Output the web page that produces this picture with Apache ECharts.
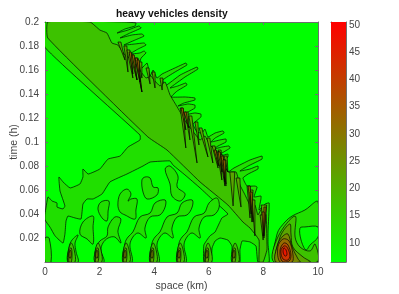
<!DOCTYPE html>
<html><head><meta charset="utf-8">
<style>html,body{margin:0;padding:0;background:#fff}#c{width:399px;height:294px}</style>
<script src="https://cdn.jsdelivr.net/npm/echarts@6/dist/echarts.min.js"></script>
</head><body><div id="c"></div>
<script>
const xTicks=[0,2,4,6,8,10];
const yTickLabels=['0.02','0.04','0.06','0.08','0.1','0.12','0.14','0.16','0.18','0.2'];
const colorbarTicks=[10,15,20,25,30,35,40,45,50];
const densityRange=[6.5,50.55];
// density of each filled contour level
const levels=[6.5,12,17,22,27,32,37,42,47];

// level 1: large region (space km, time h)
const mainRegion=[[0,.2],[2.89,.2],[3.33,.1992],[3.30,.1967],[2.93,.1942],[2.64,.1908],[3.04,.1933],[3.44,.1967],[3.52,.1950],[3.11,.1908],[2.75,.1867],[3.19,.1892],[3.55,.19],[3.63,.1883],[3.30,.185],[2.89,.1808],[3.30,.1817],[3.63,.1825],[3.70,.1808],[3.41,.1775],[3.11,.1733],[3.48,.1742],[3.63,.1758],[3.70,.1742],[3.52,.17],[3.48,.1667],[3.55,.1617],[3.74,.1658],[3.85,.155],[3.96,.16],[4.10,.1533],[4.29,.1567],[4.76,.1617],[5.16,.1658],[5.20,.1642],[4.76,.1583],[4.32,.1517],[4.40,.1467],[4.95,.1558],[5.57,.1625],[5.60,.1608],[5.13,.1542],[4.58,.145],[4.87,.1467],[5.16,.1492],[5.20,.1475],[4.84,.1425],[4.62,.1375],[5.13,.1375],[5.49,.1367],[5.49,.135],[5.09,.1325],[4.87,.13],[5.24,.1317],[5.49,.1308],[5.49,.1283],[5.24,.125],[5.09,.1225],[5.49,.1242],[5.71,.1233],[5.71,.1208],[5.42,.115],[5.57,.1083],[5.75,.1075],[5.86,.1108],[5.97,.1042],[6.23,.1075],[6.52,.1092],[6.56,.1075],[6.23,.1033],[6.08,.1],[6.41,.1017],[6.63,.1025],[6.63,.1],[6.34,.0967],[6.19,.0942],[6.48,.0958],[6.74,.0967],[6.78,.095],[6.48,.0908],[6.30,.0883],[6.56,.0892],[6.70,.09],[6.70,.0875],[6.52,.0833],[6.70,.075],[6.92,.0783],[7.51,.085],[7.95,.0883],[7.95,.0858],[7.44,.08],[7.14,.0758],[7.51,.0775],[7.80,.08],[7.80,.0775],[7.44,.0733],[7.25,.07],[7.40,.0633],[7.69,.0633],[7.77,.0625],[7.66,.0542],[7.91,.055],[7.91,.0525],[7.84,.0433],[8.06,.0483],[8.21,.0492],[8.17,.0258],[8.17,.015],[8.21,0],[7.80,0],[7.73,.0133],[7.51,.0167],[7.22,.0175],[7.14,.01],[7.14,0],[6.85,0],[6.85,.0133],[6.70,.0183],[6.41,.02],[6.23,.0175],[6.12,.0117],[6.08,0],[5.82,0],[5.82,.0142],[6.04,.0217],[6.23,.025],[6.48,.0367],[6.70,.04],[6.15,.0517],[5.68,.0617],[5.13,.0725],[4.69,.0808],[4.58,.0842],[4.40,.0842],[3.85,.0833],[3.59,.08],[3.00,.0733],[2.38,.0667],[2.09,.0567],[1.76,.0525],[1.54,.0525],[1.39,.0483],[1.32,.0358],[1.10,.0367],[.84,.0383],[.77,.0342],[.73,.0233],[.66,.0158],[.37,.0217],[.18,.0292],[0,.035],[0,.04],[.11,.0542],[.26,.0508],[.44,.0492],[.44,.0458],[.66,.0442],[.73,.0467],[.55,.0592],[.51,.0708],[.66,.0667],[.92,.0617],[1.28,.065],[1.39,.0708],[1.39,.0775],[1.58,.0733],[2.01,.0775],[2.31,.0858],[2.75,.0883],[3.04,.0958],[3.48,.1017],[3.48,.1058],[0,.1788]];
const rightRegion=[[8.50,.0233],[8.79,.0333],[9.05,.0383],[9.52,.0433],[10,.05],[10,0],[8.46,0]];
const lowerLobes=[
 [[0,.02],[.15,.02],[.22,0],[0,0]],
 [[.84,0],[.88,.0125],[.99,.0183],[1.21,.0225],[1.10,.0158],[1.14,.0083],[1.21,0]],
 [[1.28,.0233],[1.39,.0333],[1.76,.0383],[1.76,.0292],[1.76,.015],[1.54,.0192]],
 [[1.94,.0442],[2.05,.05],[2.34,.0508],[2.31,.0425],[2.27,.0342],[2.09,.0367]],
 [[1.83,0],[1.87,.0117],[2.01,.0175],[2.27,.0217],[2.31,.0292],[2.56,.0375],[2.78,.0358],[2.67,.0258],[2.78,.0158],[2.56,.0208],[2.31,.02],[2.12,.0158],[2.05,.01],[2.16,0]],
 [[2.86,0],[2.93,.0158],[3.04,.0208],[3.22,.025],[3.48,.0375],[3.85,.0408],[4.03,.0492],[4.40,.0517],[4.40,.0458],[4.21,.0392],[3.85,.0375],[3.66,.0283],[3.70,.02],[3.41,.0242],[3.22,.0208],[3.11,.0142],[3.19,0]],
 [[3.85,0],[3.92,.0158],[4.03,.0208],[4.21,.025],[4.47,.0375],[4.84,.0408],[5.02,.0492],[5.39,.0517],[5.39,.0458],[5.20,.0392],[4.84,.0375],[4.65,.0283],[4.69,.02],[4.40,.0242],[4.21,.0208],[4.10,.0142],[4.18,0]],
 [[4.84,0],[4.91,.0158],[5.02,.0208],[5.20,.025],[5.46,.0375],[5.83,.0408],[6.01,.0492],[6.30,.0533],[6.38,.0458],[6.19,.0392],[5.83,.0375],[5.64,.0283],[5.68,.02],[5.39,.0242],[5.20,.0208],[5.09,.0142],[5.17,0]],
 [[2.67,.0475],[2.75,.0567],[3.00,.0608],[3.15,.0567],[3.04,.0508],[3.15,.0525],[3.37,.0525],[3.33,.0433],[3.30,.0358],[2.93,.0392],[2.75,.0417]],
 [[3.55,.0683],[3.66,.0708],[3.85,.07],[3.96,.0625],[4.14,.0617],[4.10,.0558],[3.74,.0525],[3.59,.0583]],
 [[4.40,.0775],[4.58,.08],[4.87,.0717],[4.84,.0625],[5.13,.0567],[4.95,.0508],[4.65,.055],[4.58,.065]]
];
const brightHole=[[9.34,.0283],[9.52,.0292],[10,.0292],[10,.0208],[9.71,.0142],[9.56,.01],[9.38,.0183]];
// level 2
const bandRegion=[[.10,.2],[.10,.1867],[3.77,.1042],[4.47,.0933],[5.68,.0667],[6.70,.0475],[7.25,.0333],[7.51,.0283],[7.84,.0183],[7.84,0],[7.99,0],[8.13,.01],[8.13,.0158],[8.10,.0392],[7.95,.045],[7.80,.0392],[7.69,.0475],[7.51,.0475],[7.33,.0558],[7.14,.0642],[7.0,.075],[6.70,.075],[6.48,.085],[6.26,.0933],[6.04,.0975],[5.86,.105],[5.68,.1017],[5.38,.11],[5.16,.1167],[4.95,.125],[4.80,.1308],[4.58,.1392],[4.40,.15],[4.21,.1467],[3.99,.1517],[3.88,.155],[3.70,.1533],[3.41,.1617],[3.19,.1683],[2.93,.1725],[2.67,.1808],[2.45,.1825],[2.27,.1908],[2.01,.1933],[1.65,.2]];
const rightBump2=[[8.53,.0208],[9.16,.0383],[9.16,.0208],[9.34,.0125],[9.71,.0092],[9.89,.015],[9.96,0],[8.39,0]];
const legs2=[[[.85,0],[.85,.0083],[.96,.0158],[1.07,.01],[1.10,0]],[[1.83,0],[1.83,.0083],[1.94,.0158],[2.05,.01],[2.08,0]],[[2.86,0],[2.86,.0083],[2.97,.0158],[3.08,.01],[3.11,0]],[[3.85,0],[3.85,.0083],[3.96,.0158],[4.07,.01],[4.10,0]],[[4.84,0],[4.84,.0083],[4.95,.0158],[5.06,.01],[5.09,0]],[[5.86,0],[5.86,.0083],[5.97,.0158],[6.08,.01],[6.11,0]],[[6.85,0],[6.85,.0083],[6.96,.0158],[7.07,.01],[7.10,0]]];
// level 3
const spikes3=[
 [[2.67,.1833],[2.78,.1833],[2.93,.1683]],[[2.89,.18],[3.0,.18],[3.04,.1583]],[[3.0,.1767],[3.11,.1767],[3.22,.1533]],[[3.11,.1733],[3.22,.1733],[3.37,.1517]],[[3.30,.17],[3.41,.17],[3.55,.1417]],[[3.44,.1667],[3.55,.1667],[3.55,.1533]],[[3.70,.1617],[3.81,.1617],[3.85,.1483]],[[3.92,.1583],[4.03,.1583],[4.03,.145]],[[4.21,.1533],[4.32,.1533],[4.29,.1433]],
 [[4.95,.1283],[5.06,.1283],[5.16,.095]],[[5.13,.125],[5.24,.125],[5.31,.1017]],[[5.27,.1217],[5.38,.1217],[5.57,.0825]],[[5.49,.1167],[5.60,.1167],[5.64,.0975]],[[5.64,.1117],[5.75,.1117],[5.97,.0875]],[[5.93,.1033],[6.04,.1033],[6.15,.0825]],[[6.12,.0967],[6.23,.0967],[6.34,.0783]],[[6.34,.0933],[6.45,.0933],[6.52,.0767]],[[6.56,.0883],[6.67,.0883],[6.70,.075]],
 [[6.30,.0917],[6.41,.0917],[6.48,.0683]],[[6.41,.0892],[6.52,.0892],[6.59,.0633]],[[6.52,.085],[6.63,.085],[6.63,.065]],[[6.77,.075],[6.95,.075],[6.89,.0467]],[[7.0,.07],[7.14,.07],[7.18,.0458]],[[7.40,.0633],[7.51,.0633],[7.51,.0367]],[[7.51,.06],[7.62,.06],[7.58,.0333]],[[7.58,.0517],[7.69,.0517],[7.69,.0217]],[[7.92,.0475],[8.12,.0475],[8.02,.02]],[[7.88,.0392],[8.03,.0392],[7.99,.0183]]
];
const spikeCores=[[[3.08,.175],[3.16,.175],[3.22,.1567]],[[3.19,.1725],[3.27,.1725],[3.37,.1517]],[[3.30,.17],[3.38,.17],[3.55,.1417]],[[3.37,.1683],[3.45,.1683],[3.48,.15]],[[4.98,.1283],[5.06,.1283],[5.16,.11]],[[5.09,.125],[5.17,.125],[5.27,.1117]],[[6.19,.0933],[6.27,.0933],[6.37,.08]],[[6.34,.0917],[6.42,.0917],[6.48,.075]],[[6.45,.0883],[6.53,.0883],[6.59,.0667]],[[6.52,.085],[6.60,.085],[6.63,.0633]],[[7.44,.0633],[7.52,.0633],[7.55,.04]],[[7.51,.0583],[7.59,.0583],[7.62,.0333]],[[8.02,.0458],[8.10,.0458],[8.02,.0217]],[[7.95,.0417],[8.03,.0417],[7.99,.0217]]];
const rightBump3=[[8.61,.0208],[8.97,.0317],[9.01,.0233],[9.08,.0125],[9.45,.0042],[9.71,0],[8.50,0]];
const legs3=[[[.87,.0033],[.88,.01],[.96,.0117],[.99,.0067],[.96,0],[.88,0]],[[1.85,.0033],[1.86,.01],[1.94,.0117],[1.97,.0067],[1.94,0],[1.86,0]],[[2.88,.0033],[2.89,.01],[2.97,.0117],[3.0,.0067],[2.97,0],[2.89,0]],[[3.87,.0033],[3.88,.01],[3.96,.0117],[3.99,.0067],[3.96,0],[3.88,0]],[[4.86,.0033],[4.87,.01],[4.95,.0117],[4.98,.0067],[4.95,0],[4.87,0]],[[5.88,.0033],[5.89,.01],[5.97,.0117],[6.0,.0067],[5.97,0],[5.89,0]],[[6.87,.0033],[6.88,.01],[6.96,.0117],[6.99,.0067],[6.96,0],[6.88,0]]];
// level 4
const legs4=[[[.88,.0058],[.92,.01],[.96,.0075],[.94,.0033],[.90,.0033]],[[1.86,.0058],[1.90,.01],[1.94,.0075],[1.92,.0033],[1.88,.0033]],[[2.89,.0058],[2.93,.01],[2.97,.0075],[2.95,.0033],[2.91,.0033]],[[3.88,.0058],[3.92,.01],[3.96,.0075],[3.94,.0033],[3.90,.0033]],[[4.87,.0058],[4.91,.01],[4.95,.0075],[4.93,.0033],[4.89,.0033]],[[5.89,.0058],[5.93,.01],[5.97,.0075],[5.95,.0033],[5.91,.0033]],[[6.88,.0058],[6.92,.01],[6.96,.0075],[6.94,.0033],[6.90,.0033]]];
const rightBump4=[[8.53,.015],[8.72,.0217],[8.90,.0233],[9.05,.0125],[9.27,.0025],[9.34,0],[8.46,0]];
const rightBump5=[[8.53,.0125],[8.72,.0192],[8.94,.0175],[9.08,.0067],[9.05,0],[8.61,0]];
const rightBump6=[[8.61,.01],[8.75,.0158],[8.90,.0142],[9.01,.0058],[8.94,.0008],[8.68,.0008]];
const rightBump7=[[8.64,.0092],[8.75,.0133],[8.86,.0125],[8.97,.0058],[8.90,.0017],[8.72,.0025]];
const rightBump8=[[8.75,.0117],[8.83,.01],[8.86,.0058],[8.79,.005],[8.72,.0083]];

function colourOf(v){
 const r=Math.max(0,Math.min(1,(v-densityRange[0])/(densityRange[1]-densityRange[0])));
 return 'rgb('+Math.round(255*r)+','+Math.round(255*(1-r))+',0)';
}
const layers=[
 [[mainRegion],1,0.12],
 [[rightRegion,...lowerLobes],1,0.35],
 [[brightHole],0,0.35],
 [[bandRegion],2,0.12],
 [[rightBump2,...legs2],2,0.35],
 [[...spikes3],3,0],
 [[rightBump3,...legs3],3,0.35],
 [[...legs4,rightBump4],4,0.35],
 [[...spikeCores],5,0],
 [[rightBump5],5,0.35],[[rightBump6],6,0.35],[[rightBump7],7,0.35],[[rightBump8],8,0.35]
];
const contourSeries=layers.map(function(l){
 const polys=l[0],fill=colourOf(levels[l[1]]),sm=l[2];
 return {type:'custom',coordinateSystem:'cartesian2d',xAxisIndex:0,yAxisIndex:0,clip:true,silent:true,
  data:polys.map(function(p,i){return [p[0][0],p[0][1],i];}),
  renderItem:function(params,api){
   const pts=polys[api.value(2)].map(function(q){return api.coord(q);});
   return {type:'polygon',shape:{points:pts,smooth:sm},style:{fill:fill,stroke:'rgba(0,0,0,0.85)',lineWidth:0.8}};
  }};
});
const colorbarSeries={type:'custom',coordinateSystem:'cartesian2d',xAxisIndex:2,yAxisIndex:2,silent:true,
 data:[[0,densityRange[0],1,densityRange[1]]],
 renderItem:function(params,api){
  const a=api.coord([api.value(0),api.value(1)]),b=api.coord([api.value(2),api.value(3)]);
  return {type:'rect',shape:{x:a[0],y:b[1],width:b[0]-a[0],height:a[1]-b[1]},
   style:{fill:new echarts.graphic.LinearGradient(0,0,0,1,[{offset:0,color:colourOf(densityRange[1])},{offset:1,color:colourOf(densityRange[0])}])}};
 }};
const grey='#6e6e6e',txt='#444444',font='"Liberation Sans",Arial,sans-serif';
const line={show:true,onZero:false,lineStyle:{color:grey,width:1}};
const tick={show:true,inside:true,length:3,lineStyle:{color:grey,width:1}};
const chart=echarts.init(document.getElementById('c'),null,{renderer:'canvas'});
chart.setOption({
 animation:false,backgroundColor:'#fff',
 title:{text:'heavy vehicles density',left:111,top:4,textStyle:{fontFamily:font,fontSize:10.3,fontWeight:'bold',color:'#111'}},
 grid:[
  {left:45,top:22,width:273,height:240,show:true,backgroundColor:colourOf(levels[0]),borderWidth:0,outerBoundsMode:'none'},
  {left:331,top:22,width:15,height:240,show:false,outerBoundsMode:'none'}
 ],
 xAxis:[
  {gridIndex:0,type:'value',min:0,max:10,interval:2,position:'bottom',axisLine:line,axisTick:tick,splitLine:{show:false},
   name:'space (km)',nameLocation:'middle',nameGap:19,nameMoveOverlap:false,nameTextStyle:{fontFamily:font,fontSize:10.5,color:txt},
   axisLabel:{fontFamily:font,fontSize:10,color:txt,margin:5}},
  {gridIndex:0,type:'value',min:0,max:10,interval:2,position:'top',axisLine:line,axisTick:tick,axisLabel:{show:false},splitLine:{show:false}},
  {gridIndex:1,type:'value',min:0,max:1,position:'bottom',axisLine:line,axisTick:{show:false},axisLabel:{show:false},splitLine:{show:false}},
  {gridIndex:1,type:'value',min:0,max:1,position:'top',axisLine:line,axisTick:{show:false},axisLabel:{show:false},splitLine:{show:false}}
 ],
 yAxis:[
  {gridIndex:0,type:'value',min:0,max:0.2,interval:0.02,position:'left',axisLine:line,axisTick:tick,splitLine:{show:false},
   name:'time (h)',nameLocation:'middle',nameGap:25,nameMoveOverlap:false,nameTextStyle:{fontFamily:font,fontSize:10.5,color:txt},
   axisLabel:{fontFamily:font,fontSize:10,color:txt,margin:6,formatter:function(v){const i=Math.round(v/0.02)-1;return i>=0?yTickLabels[i]:'';}}},
  {gridIndex:0,type:'value',min:0,max:0.2,interval:0.02,position:'right',axisLine:line,axisTick:tick,axisLabel:{show:false},splitLine:{show:false}},
  {gridIndex:1,type:'value',min:densityRange[0],max:densityRange[1],position:'right',axisLine:line,
   axisTick:{show:true,inside:true,length:2,lineStyle:{color:grey},customValues:colorbarTicks},
   axisLabel:{fontFamily:font,fontSize:10,color:txt,margin:3,customValues:colorbarTicks},splitLine:{show:false}},
  {gridIndex:1,type:'value',min:densityRange[0],max:densityRange[1],position:'left',axisLine:line,axisTick:{show:false},axisLabel:{show:false},splitLine:{show:false}}
 ],
 series:[...contourSeries,colorbarSeries]
});
</script></body></html>
